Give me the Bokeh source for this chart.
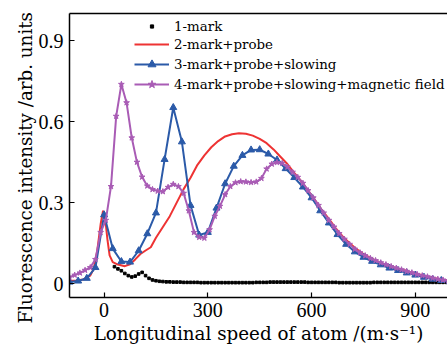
from bokeh.plotting import figure
from bokeh.models import (Range1d, FixedTicker, LinearAxis, Legend, LegendItem,
                          Title)
from bokeh.embed import file_html
from bokeh.resources import INLINE

# ---------------- data ----------------
x_ticks = [0, 300, 600, 900]
y_ticks = [0, 0.3, 0.6, 0.9]
y_tick_labels = {0: "0", 0.3: "0.3", 0.6: "0.6", 0.9: "0.9"}
x_title = "Longitudinal speed of atom /(m\u00b7s\u207b\u00b9)"
y_title = "Fluorescence intensity /arb. units"

names = ["1-mark", "2-mark+probe", "3-mark+probe+slowing",
         "4-mark+probe+slowing+magnetic field"]

# series 1 : mark only (square symbols)
v_mark = list(range(30, 1001, 10))
i_mark = [0.063, 0.055, 0.048, 0.038, 0.030, 0.025, 0.028, 0.036, 0.042, 0.030,
          0.020, 0.014, 0.011, 0.009, 0.008, 0.007, 0.007, 0.006, 0.006, 0.006,
          0.005, 0.005, 0.005, 0.005, 0.005, 0.004, 0.004, 0.004, 0.004, 0.004,
          0.004, 0.004, 0.004, 0.004, 0.004, 0.004, 0.004, 0.004, 0.004, 0.004,
          0.004, 0.005, 0.005, 0.005, 0.005, 0.006, 0.006, 0.006, 0.006, 0.006,
          0.006, 0.006, 0.006, 0.006, 0.006, 0.006, 0.005, 0.005, 0.005, 0.005,
          0.005, 0.005, 0.005, 0.005, 0.005, 0.004, 0.004, 0.004, 0.004, 0.004,
          0.004, 0.004, 0.004, 0.004, 0.004, 0.005, 0.005, 0.005, 0.005, 0.005,
          0.005, 0.005, 0.005, 0.005, 0.005, 0.005, 0.005, 0.005, 0.005, 0.005,
          0.005, 0.005, 0.005, 0.005, 0.005, 0.005, 0.005, 0.005]

# series 2 : mark + probe (line)
v_probe = [-100, -80, -60, -40, -30, -20, -10, -3, 5, 10, 16, 25, 40, 60, 75, 90,
           105, 120, 135, 150, 170, 190, 210, 230, 250, 270, 290, 310, 330, 350,
           370, 390, 410, 430, 450, 470, 490, 510, 530, 550, 570, 590, 610, 630,
           650, 670, 690, 710, 730, 750, 770, 790, 810, 830, 850, 870, 890, 910,
           930, 950, 970, 990, 1000]
i_probe = [0.010, 0.012, 0.016, 0.030, 0.055, 0.120, 0.220, 0.270, 0.220, 0.160,
           0.105, 0.080, 0.071, 0.065, 0.072, 0.090, 0.110, 0.123, 0.135, 0.170,
           0.210, 0.250, 0.300, 0.350, 0.392, 0.440, 0.475, 0.505, 0.528, 0.545,
           0.553, 0.557, 0.555, 0.548, 0.536, 0.520, 0.497, 0.470, 0.443, 0.410,
           0.380, 0.345, 0.310, 0.272, 0.240, 0.205, 0.175, 0.150, 0.128, 0.110,
           0.096, 0.083, 0.072, 0.064, 0.056, 0.049, 0.042, 0.035, 0.028, 0.022,
           0.017, 0.013, 0.011]

# series 3 : mark + probe + slowing (line + triangles)
v_slow = [-100, -75, -50, -25, 0, 25, 50, 75, 100, 125, 150, 175, 200, 225, 250,
          275, 300, 325, 350, 375, 400, 425, 450, 475, 500, 525, 550, 575, 600,
          625, 650, 675, 700, 725, 750, 775, 800, 825, 850, 875, 900, 925, 950,
          975, 1000]
i_slow = [0.006, 0.010, 0.020, 0.060, 0.255, 0.130, 0.082, 0.080, 0.122, 0.185,
          0.262, 0.460, 0.652, 0.525, 0.290, 0.180, 0.190, 0.280, 0.370, 0.435,
          0.475, 0.495, 0.496, 0.480, 0.458, 0.426, 0.393, 0.358, 0.318, 0.270,
          0.225, 0.182, 0.146, 0.118, 0.098, 0.083, 0.070, 0.058, 0.049, 0.040,
          0.032, 0.024, 0.017, 0.012, 0.008]

# series 4 : mark + probe + slowing + magnetic field (line + stars)
v_mag = [-100, -85, -70, -55, -40, -25, -10, 5, 20, 35, 50, 65, 80, 95, 110, 125,
         140, 155, 170, 185, 200, 215, 230, 245, 260, 275, 290, 305, 320, 335, 350,
         365, 380, 395, 410, 425, 440, 455, 470, 485, 500, 515, 530, 545, 560, 575,
         590, 605, 620, 635, 650, 665, 680, 695, 710, 725, 740, 755, 770, 785, 800,
         815, 830, 845, 860, 875, 890, 905, 920, 935, 950, 965, 980, 995]
i_mag = [0.024, 0.032, 0.040, 0.050, 0.060, 0.090, 0.190, 0.235, 0.360, 0.620,
         0.738, 0.670, 0.540, 0.450, 0.395, 0.362, 0.349, 0.343, 0.341, 0.357,
         0.368, 0.360, 0.335, 0.270, 0.190, 0.172, 0.169, 0.200, 0.250, 0.287,
         0.330, 0.360, 0.374, 0.378, 0.377, 0.375, 0.377, 0.390, 0.425, 0.443,
         0.449, 0.446, 0.432, 0.413, 0.394, 0.372, 0.345, 0.318, 0.290, 0.262,
         0.235, 0.210, 0.186, 0.165, 0.146, 0.128, 0.115, 0.104, 0.094, 0.086,
         0.078, 0.071, 0.064, 0.058, 0.052, 0.046, 0.041, 0.035, 0.030, 0.026,
         0.021, 0.017, 0.014, 0.011]

# ---------------- styles ----------------
RED = "#ee3333"
BLUE = "#2b5aa8"
PURPLE = "#a95cb5"
TICK_FONT = "Liberation Serif"
LABEL_FONT = "DejaVu Serif"

p = figure(width=447, height=346, output_backend="svg", toolbar_location=None,
           x_range=Range1d(-100, 993), y_range=Range1d(-0.051, 1.0),
           min_border_left=69, min_border_top=13, min_border_bottom=47,
           min_border_right=0)
p.outline_line_color = None
p.xgrid.visible = False
p.ygrid.visible = False
p.background_fill_color = "white"
p.border_fill_color = "white"

for ax in (p.xaxis[0], p.yaxis[0]):
    ax.major_tick_in = 5
    ax.major_tick_out = 0
    ax.minor_tick_line_color = None
    ax.axis_line_width = 1.5
    ax.major_tick_line_width = 1.2
    ax.major_label_text_font = TICK_FONT
    ax.major_label_text_font_size = "20px"
    ax.major_label_text_color = "black"
    ax.axis_label_text_font = LABEL_FONT
    ax.axis_label_text_font_size = "18.3px"
    ax.axis_label_text_font_style = "normal"
    ax.axis_label_text_color = "black"

p.xaxis[0].ticker = FixedTicker(ticks=x_ticks)
p.yaxis[0].ticker = FixedTicker(ticks=y_ticks)
p.yaxis[0].major_label_overrides = y_tick_labels
p.xaxis[0].axis_label = x_title
p.xaxis[0].major_label_standoff = 5
p.xaxis[0].axis_label_standoff = 3
p.yaxis[0].major_label_standoff = 6

top = LinearAxis(ticker=FixedTicker(ticks=[]), major_label_text_font_size="0px",
                 major_tick_line_color=None, minor_tick_line_color=None,
                 axis_line_width=1.5)
p.add_layout(top, "above")

# y title in the left panel, starting a little below the frame bottom
ytitle = Title(text=y_title, align="left", offset=-26, standoff=0,
               text_font=LABEL_FONT, text_font_size="18.3px",
               text_font_style="normal", text_color="black")
p.add_layout(ytitle, "left")

r1 = p.scatter(v_mark, i_mark, marker="square", size=2.6, color="black")
r2 = p.line(v_probe, i_probe, line_color=RED, line_width=2)
r3l = p.line(v_slow, i_slow, line_color=BLUE, line_width=2)
r3m = p.scatter(v_slow, i_slow, marker="triangle", size=7, color=BLUE)
r4l = p.line(v_mag, i_mag, line_color=PURPLE, line_width=2)
r4m = p.scatter(v_mag, i_mag, marker="star", size=6, color=PURPLE)


def style_legend(lg, gh):
    lg.glyph_width = 35
    lg.glyph_height = gh
    lg.label_height = 20
    lg.label_standoff = 5
    lg.spacing = 0
    lg.padding = 0
    lg.margin = 0
    lg.border_line_color = None
    lg.background_fill_alpha = 0
    lg.label_text_font = LABEL_FONT
    lg.label_text_font_size = "13.4px"
    lg.label_text_color = "black"


legend1 = Legend(items=[LegendItem(label=names[0], renderers=[r1])],
                 location=(65, 261))
style_legend(legend1, 8)
legend2 = Legend(items=[
    LegendItem(label=names[1], renderers=[r2]),
    LegendItem(label=names[2], renderers=[r3l, r3m]),
    LegendItem(label=names[3], renderers=[r4l, r4m]),
], location=(65, 203))
style_legend(legend2, 20)
p.add_layout(legend1, "center")
p.add_layout(legend2, "center")

open("out.html", "w").write(file_html(p, INLINE))
